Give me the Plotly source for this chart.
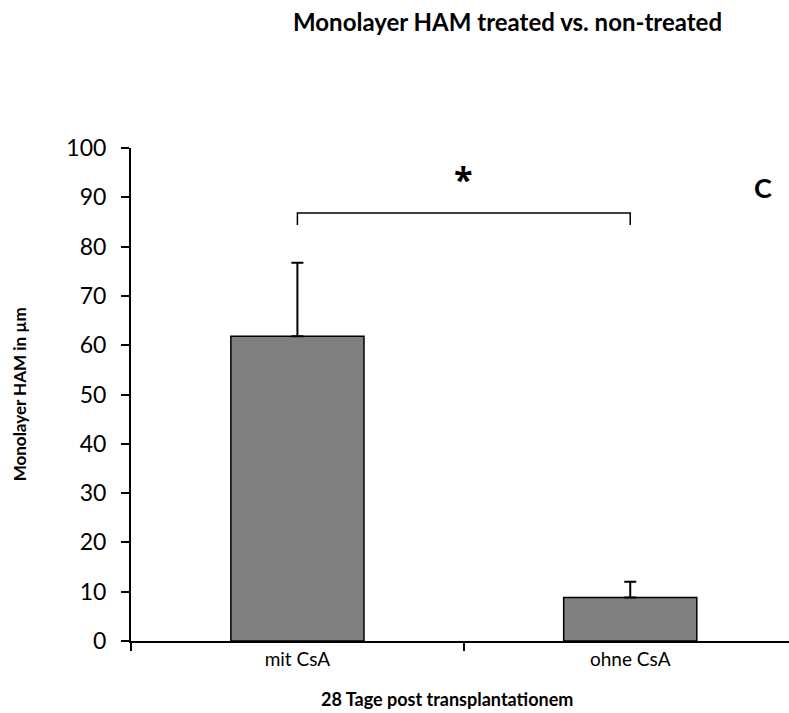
import plotly.graph_objects as go

# Monolayer HAM thickness, 28 days post transplantation
categories = ["mit CsA", "ohne CsA"]
means = [61.8, 8.8]
errors = [14.9, 3.2]

# significance bracket between the two groups
bracket_top = 86.8
bracket_foot = 84.4
star_y = 94.9

y_ticks = [0, 10, 20, 30, 40, 50, 60, 70, 80, 90, 100]

font_family = "Lato, 'Open Sans', sans-serif"

fig = go.Figure()
fig.add_trace(go.Bar(
    x=categories,
    y=means,
    width=0.4,
    marker=dict(color="#808080", line=dict(color="#000000", width=1.5)),
    error_y=dict(type="data", array=errors, symmetric=False, arrayminus=[0, 0],
                 color="#000000", thickness=2, width=6),
    showlegend=False,
))

# bracket
fig.add_trace(go.Scatter(
    x=[categories[0], categories[0], categories[1], categories[1]],
    y=[bracket_foot, bracket_top, bracket_top, bracket_foot],
    mode="lines",
    line=dict(color="#000000", width=1.5),
    showlegend=False,
    hoverinfo="skip",
))

# asterisk glyph sits high in its line box, so nudge it down
fig.add_annotation(x=0.5, y=star_y, xref="x", yref="y", text="<b>*</b>",
                   showarrow=False, yshift=-6,
                   font=dict(size=34, color="#000000", family="'Open Sans', sans-serif"))
fig.add_annotation(x=1.4, y=91.9, xref="x", yref="y", text="<b>C</b>",
                   showarrow=False, font=dict(size=27, color="#000000", family=font_family))

# titles placed in paper coordinates
fig.add_annotation(x=0.572, y=1.2576, xref="paper", yref="paper",
                   text="<b>Monolayer HAM treated vs. non-treated</b>",
                   showarrow=False, xanchor="center", yanchor="middle",
                   font=dict(size=24, color="#000000", family=font_family))
fig.add_annotation(x=0.48, y=-0.118, xref="paper", yref="paper",
                   text="<b>28 Tage post transplantationem</b>",
                   showarrow=False, xanchor="center", yanchor="middle",
                   font=dict(size=18, color="#000000", family=font_family))
fig.add_annotation(x=-0.169, y=0.5, xref="paper", yref="paper",
                   text="<b>Monolayer HAM in µm</b>", textangle=-90,
                   showarrow=False, xanchor="center", yanchor="middle",
                   font=dict(size=17, color="#000000", family=font_family))

fig.update_layout(
    width=789, height=713,
    margin=dict(l=131, r=0, t=148, b=72),
    paper_bgcolor="white", plot_bgcolor="white",
    font=dict(family=font_family, color="#000000"),
    xaxis=dict(
        range=[-0.5, 1.477],
        showline=True, linecolor="#000000", linewidth=2,
        ticks="outside", tickson="boundaries", ticklen=8, tickwidth=1.5, tickcolor="#000000",
        tickfont=dict(size=19),
        showgrid=False, zeroline=False,
    ),
    yaxis=dict(
        range=[0, 100],
        tickvals=y_ticks,
        showline=True, linecolor="#000000", linewidth=2,
        ticks="outside", ticklen=8, tickwidth=2, tickcolor="#000000",
        tickfont=dict(size=23),
        ticklabelstandoff=10,
        showgrid=False, zeroline=False,
    ),
)

fig.write_html("out.html")
